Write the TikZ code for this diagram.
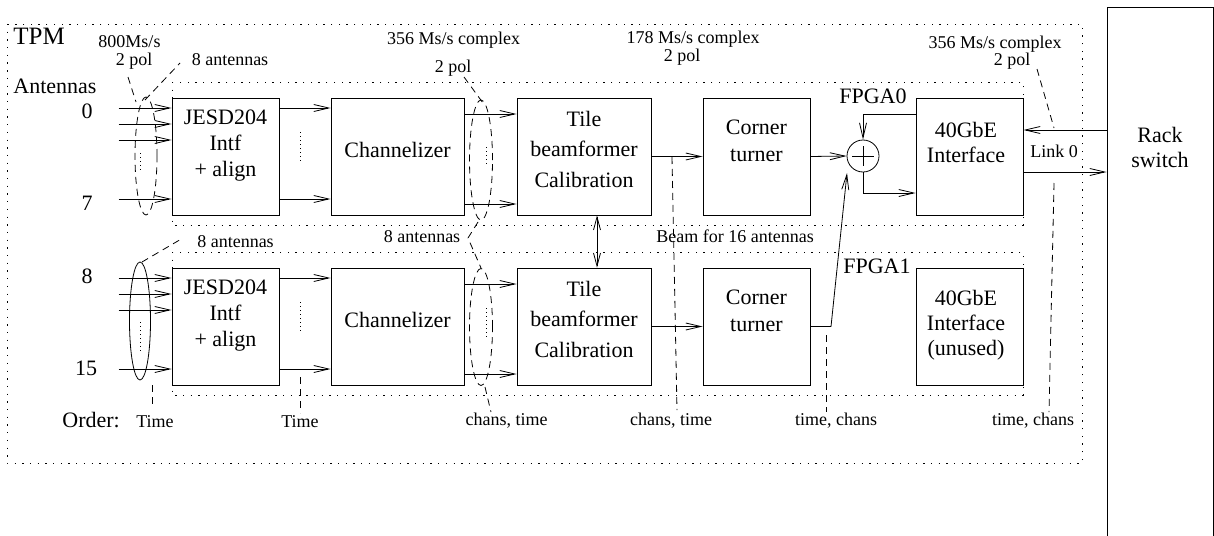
\documentclass[tikz,border=0pt]{standalone}
\usepackage{fontspec}
\setmainfont{Liberation Serif}
\usetikzlibrary{arrows.meta,shapes.geometric}
\begin{document}
\begin{tikzpicture}[x=1pt,y=-1pt, line width=0.8pt,
  blk/.style={draw, line width=0.9pt, inner sep=0, minimum height=117pt},
  big/.style={font=\fontsize{22}{#1}\selectfont, align=center, inner sep=0},
  big/.default=26,
  lab/.style={font=\fontsize{18}{20}\selectfont, inner sep=0, anchor=base},
  biglab/.style={font=\fontsize{22}{26}\selectfont, inner sep=0, anchor=base},
  frame/.style={dash pattern=on 1.3pt off 6.4pt, line width=0.9pt},
  lead/.style={dash pattern=on 7pt off 5pt, line width=0.8pt},
  dotsl/.style={dash pattern=on 1pt off 3pt, line width=0.9pt},
  arr/.style={-{Straight Barb[length=15pt,width=7pt]}},
  ell/.style={ellipse, draw, inner sep=0},
]
\useasboundingbox (0,0) rectangle (1214,535);

% frames
\draw[frame] (7,24) rectangle (1082,463);
\draw[frame] (172,82) rectangle (1023,225);
\draw[frame] (172,252) rectangle (1023,395);

% rack switch
\node[draw, line width=0.9pt, minimum width=106pt, minimum height=553pt, inner sep=0] (rack) at (1160,283.5) {};
\node[big=25] (racktxt) at (1160,147) {Rack\\switch};

% blocks FPGA0
\node[blk, minimum width=107pt] (jesd0) at (225.5,156.5) {};
\node[blk, minimum width=133pt] (chan0) at (397.5,156.5) {};
\node[blk, minimum width=134pt] (tile0) at (584,156.5) {};
\node[blk, minimum width=107pt] (corner0) at (756.5,156.5) {};
\node[blk, minimum width=107pt] (gbe0) at (969.5,156.5) {};
% blocks FPGA1
\node[blk, minimum width=107pt] (jesd1) at (225.5,326.5) {};
\node[blk, minimum width=133pt] (chan1) at (397.5,326.5) {};
\node[blk, minimum width=134pt] (tile1) at (584,326.5) {};
\node[blk, minimum width=107pt] (corner1) at (756.5,326.5) {};
\node[blk, minimum width=107pt] (gbe1) at (969.5,326.5) {};

% block texts
\node[big=26] (tj0) at (225.5,146) {JESD204\\Intf\\+ align};
\node[big] (tc0) at (397.5,149.5) {Channelizer};
\node[big=30.5] (tt0) at (584,149) {Tile\\beamformer\\Calibration};
\node[big=27] (tk0) at (756.5,141) {Corner\\turner};
\node[big=25] (tg0) at (966,142) {40GbE\\Interface};
\node[big=26] (tj1) at (225.5,316) {JESD204\\Intf\\+ align};
\node[big] (tc1) at (397.5,319.5) {Channelizer};
\node[big=30.5] (tt1) at (584,319) {Tile\\beamformer\\Calibration};
\node[big=27] (tk1) at (756.5,311) {Corner\\turner};
\node[big=25] (tg1) at (966,325) {40GbE\\Interface\\(unused)};

% adder
\node[circle, draw, line width=0.8pt, minimum size=32pt, inner sep=0] (plus) at (863,156) {};
\draw ([yshift=10pt]plus.center) -- ([yshift=-10pt]plus.center);
\draw ([xshift=-11pt]plus.center) -- ([xshift=11pt]plus.center);

% big labels
\node[font=\fontsize{25}{28}\selectfont, inner sep=0, anchor=base west] (tpm) at (13,45) {TPM};
\node[biglab, anchor=base west] (ant) at (13,93) {Antennas};
\node[biglab] (a0) at (87,118) {0};
\node[biglab] (a7) at (87,210) {7};
\node[biglab] (a8) at (87,283) {8};
\node[biglab] (a15) at (86,375) {15};
\node[biglab, anchor=base west] (order) at (62,427) {Order:};
\node[biglab] (fpga0) at (873,103) {FPGA0};
\node[biglab] (fpga1) at (877,273) {FPGA1};

% small labels
\node[lab] (r800) at (129.5,48) {800Ms/s};
\node[lab] (p1) at (134,65) {2 pol};
\node[lab] (n1) at (230,65) {8 antennas};
\node[lab] (n2) at (235.5,247) {8 antennas};
\node[lab] (r356a) at (453.5,45) {356 Ms/s complex};
\node[lab] (p2) at (453,72) {2 pol};
\node[lab] (n3) at (422,242) {8 antennas};
\node[lab] (r178) at (693,44) {178 Ms/s complex};
\node[lab] (p3) at (682,61.5) {2 pol};
\node[lab] (beam) at (735,242) {Beam for 16 antennas};
\node[lab] (r356b) at (995,48.5) {356 Ms/s complex};
\node[lab] (p4) at (1012,66) {2 pol};
\node[lab] (link) at (1054,157) {Link 0};
\node[lab] (o1) at (155,427) {Time};
\node[lab] (o2) at (300,427) {Time};
\node[lab] (o3) at (506.5,425) {chans, time};
\node[lab] (o4) at (671,425) {chans, time};
\node[lab] (o5) at (836,425) {time, chans};
\node[lab] (o6) at (1033,425) {time, chans};

% ellipses
\node[ell, lead, minimum width=22pt, minimum height=118pt] (e0) at (146,156) {};
\node[ell, minimum width=21pt, minimum height=118pt] (e1) at (140,321) {};
\node[ell, lead, minimum width=23pt, minimum height=120pt] (e2) at (481,160) {};
\node[ell, lead, minimum width=23pt, minimum height=117pt] (e3) at (481,327) {};

% inputs
\foreach \j in {0,1}{
  \foreach \s in {48.5,32.5,16.5,-42.5}{
    \draw[arr] ([shift={(-53pt,\s pt)}]jesd\j.west) -- ([yshift=\s pt]jesd\j.west);
  }
  \draw[arr] ([yshift=48.5pt]jesd\j.east) -- ([yshift=48.5pt]jesd\j.east -| chan\j.west);
  \draw[arr] ([yshift=-42.5pt]jesd\j.east) -- ([yshift=-42.5pt]jesd\j.east -| chan\j.west);
  \draw[arr] ([yshift=42.5pt]chan\j.east) -- ([yshift=42.5pt]chan\j.east -| tile\j.west);
  \draw[arr] ([yshift=-47.5pt]chan\j.east) -- ([yshift=-47.5pt]chan\j.east -| tile\j.west);
  \draw[arr] (tile\j.east) -- (corner\j.west);
}

% dots
\draw[dotsl] (140,153) -- (140,173);
\draw[dotsl] (300,132) -- (300,162);
\draw[dotsl] (486,147) -- (486,167);
\draw[dotsl] (140,322) -- (140,353);
\draw[dotsl] (300,302) -- (300,332);
\draw[dotsl] (486,308) -- (486,337);

% FPGA0 output path
\draw[arr] (corner0.east) -- (plus.west);
\draw[arr] ([yshift=42.5pt]gbe0.west) -| (plus.north);
\draw[arr] (plus.south) |- ([yshift=-36.5pt]gbe0.west);
\draw[arr] ([yshift=153.5pt]rack.west) -- ([yshift=26.5pt]gbe0.east);
\draw[arr] ([yshift=-15.5pt]gbe0.east) -- ([yshift=111.5pt]rack.west);
\draw[{Straight Barb[length=13pt,width=7pt]}-{Straight Barb[length=13pt,width=7pt]}]
  ([xshift=13pt]tile0.south) -- ([xshift=13pt]tile1.north);
\coordinate (bend) at (831,326.5);
\coordinate (ptip) at (847,173);
\draw[arr] (corner1.east) -- (bend) -- (ptip);

% leader lines
\coordinate (l1a) at (128,77);   \coordinate (l1b) at (136,102);
\coordinate (l2a) at (145,100);  \coordinate (l2b) at (180,63);
\coordinate (l3a) at (142,262);  \coordinate (l3b) at (183,238);
\coordinate (l4a) at (152,385);  \coordinate (l4b) at (152,408);
\coordinate (l5a) at (300,377);  \coordinate (l5b) at (300,413);
\coordinate (l6a) at (464,77);   \coordinate (l6b) at (483,103);
\coordinate (l7a) at (478,222);  \coordinate (l7b) at (468,238);
\coordinate (l7c) at (481,268);
\coordinate (l8a) at (485,387);  \coordinate (l8b) at (491,412);
\coordinate (l9a) at (672,157);  \coordinate (l9b) at (677,410);
\coordinate (l10a) at (826,335); \coordinate (l10b) at (826,412);
\coordinate (l11a) at (1037,69); \coordinate (l11b) at (1054,128);
\coordinate (l12a) at (1054,183);\coordinate (l12b) at (1049,412);
\draw[lead] (l1a) -- (l1b);
\draw[lead] (l2a) -- (l2b);
\draw[lead] (l3a) -- (l3b);
\draw[lead] (l4a) -- (l4b);
\draw[lead] (l5a) -- (l5b);
\draw[lead] (l6a) -- (l6b);
\draw[lead] (l7a) -- (l7b) -- (l7c);
\draw[lead] (l8a) -- (l8b);
\draw[lead] (l9a) -- (l9b);
\draw[lead] (l10a) -- (l10b);
\draw[lead] (l11a) -- (l11b);
\draw[lead] (l12a) -- (l12b);
\end{tikzpicture}
\end{document}
